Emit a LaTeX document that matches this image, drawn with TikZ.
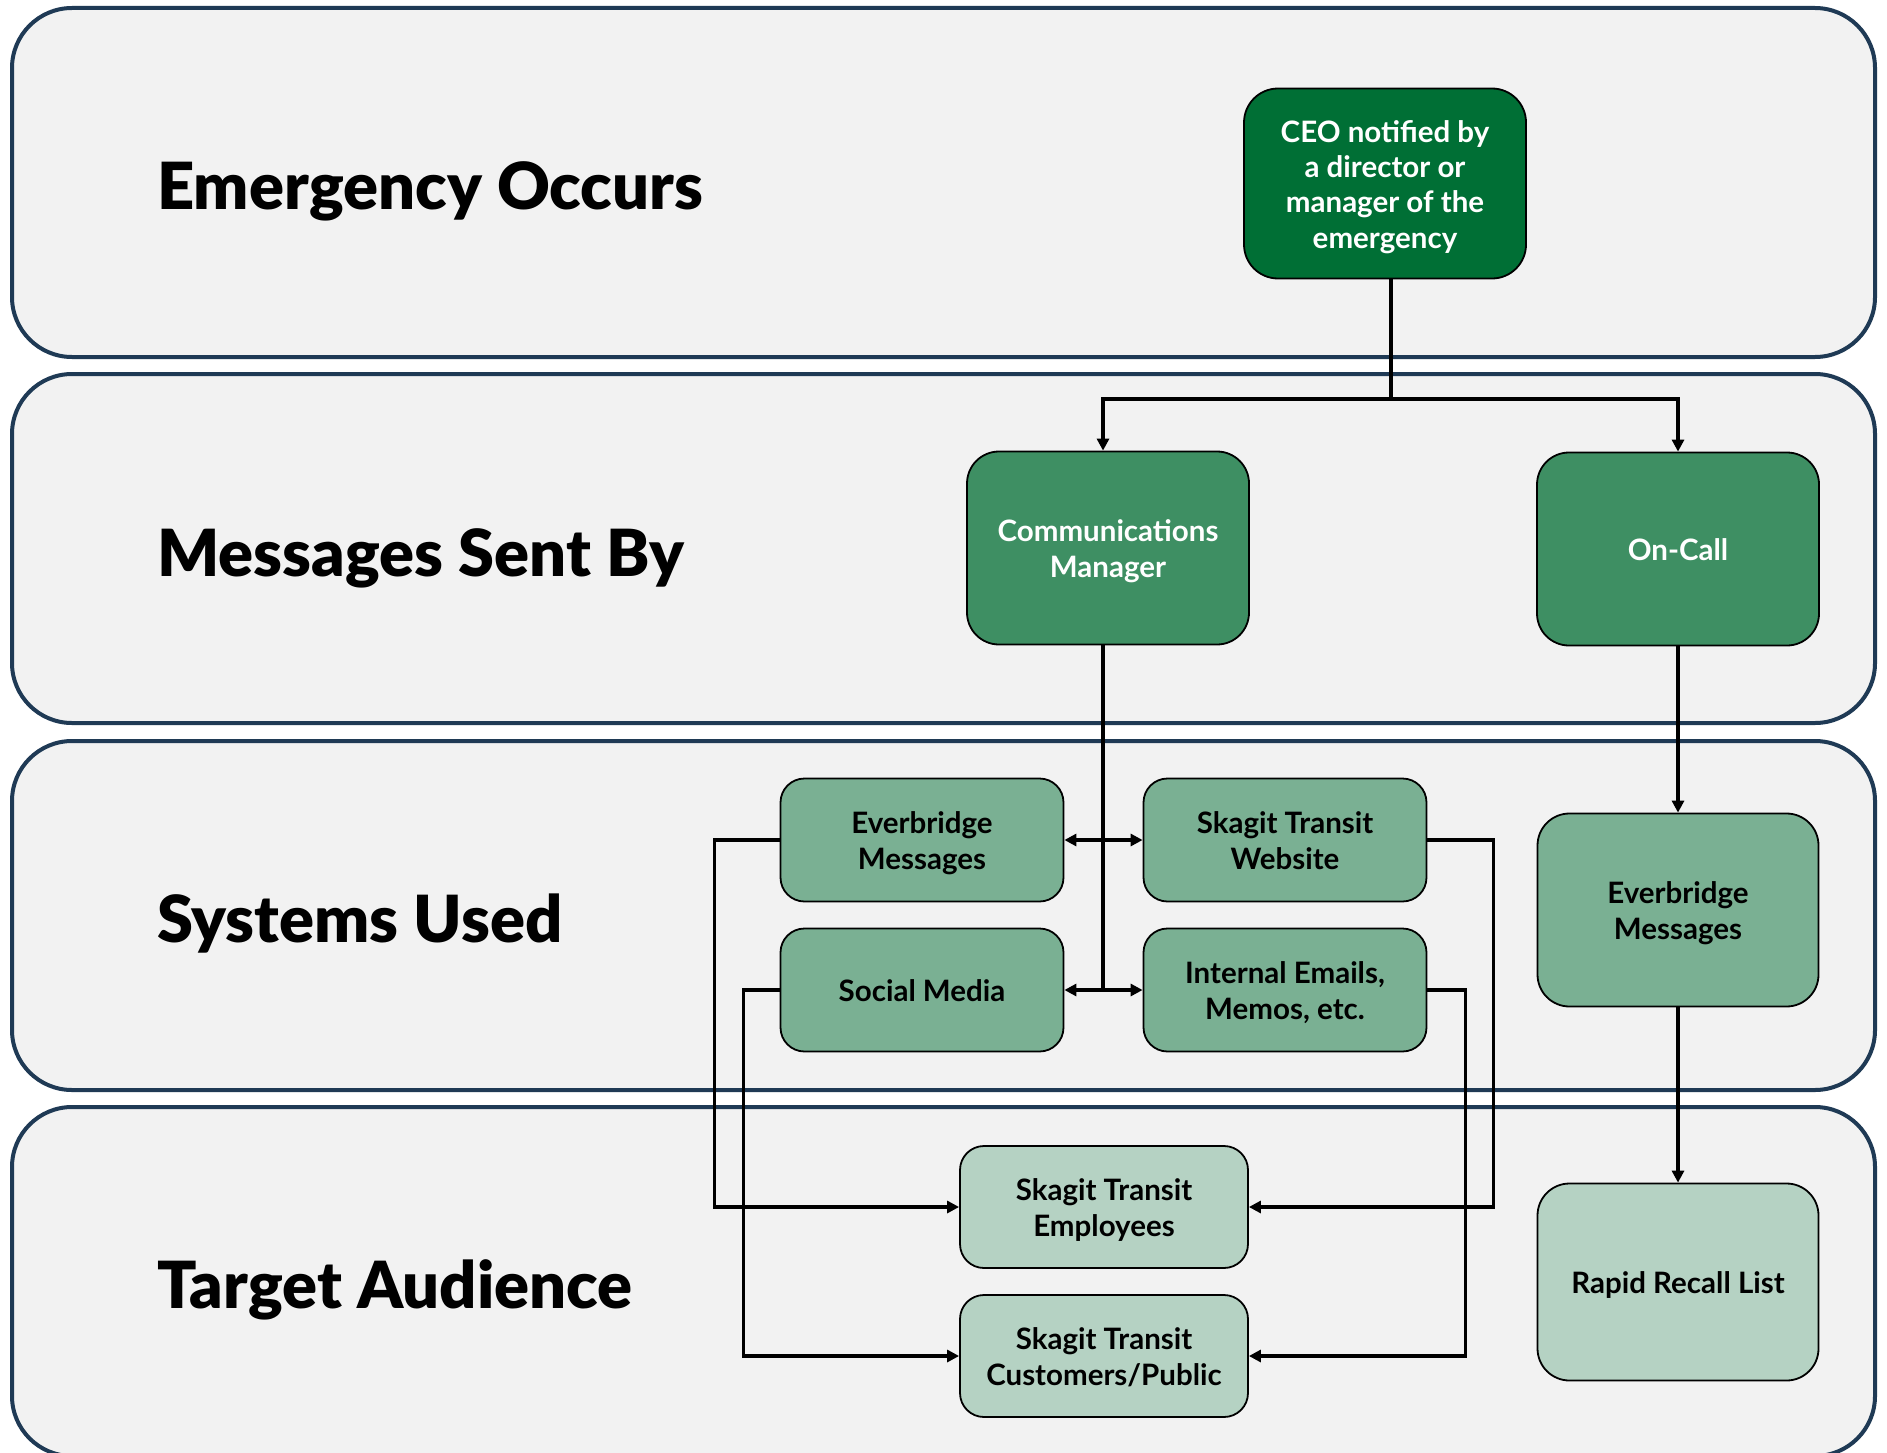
\documentclass[tikz,border=0pt]{standalone}
\usepackage{fontspec}
\setmainfont{Lato}
\newfontfamily\latoheavy{Lato Black}
\usetikzlibrary{arrows.meta}
\definecolor{lanefill}{HTML}{F2F2F2}
\definecolor{laneline}{HTML}{1F3A55}
\definecolor{ceogreen}{HTML}{006F35}
\definecolor{midgreen}{HTML}{3E8F63}
\definecolor{sysgreen}{HTML}{7AB093}
\definecolor{tgtgreen}{HTML}{B5D2C3}
\newcommand\bxfont{\fontsize{29.5}{35.3}\selectfont\bfseries}
\newcommand\lnfont{\fontsize{65}{70}\selectfont\latoheavy}
\newcommand\bt[1]{\raisebox{-4.5pt}[\height][\depth]{\begin{tabular}{@{}c@{}}#1\end{tabular}}}
\begin{document}
\begin{tikzpicture}[x=1pt,y=-1pt,
  lane/.style={draw=laneline, fill=lanefill, line width=4pt, rounded corners=60pt,
    minimum width=1863pt, minimum height=349pt, inner sep=0pt},
  lanetitle/.style={font=\lnfont, anchor=base west, inner sep=0pt},
  box/.style={draw=black, line width=1.8pt, rounded corners=24pt,
    inner sep=0pt, font=\bxfont},
  ceobox/.style={box, fill=ceogreen, text=white, minimum width=282pt, minimum height=190pt, rounded corners=34pt},
  sendbox/.style={box, fill=midgreen, text=white, minimum width=282pt, minimum height=193pt, rounded corners=32pt},
  sysbox/.style={box, fill=sysgreen, minimum width=283pt, minimum height=123pt},
  bigsys/.style={box, fill=sysgreen, minimum width=281pt, minimum height=193pt, rounded corners=32pt},
  tgtbox/.style={box, fill=tgtgreen, minimum width=288pt, minimum height=122pt},
  bigtgt/.style={box, fill=tgtgreen, minimum width=281pt, minimum height=197pt, rounded corners=32pt},
  conn/.style={draw=black, line width=3.5pt},
  arr/.style={conn, -{Triangle[length=12pt,width=12pt]}},
  darr/.style={conn, {Triangle[length=12pt,width=12pt]}-{Triangle[length=12pt,width=12pt]}}
]
\useasboundingbox (0,0) rectangle (1887,1453);
\clip (0,0) rectangle (1887,1453);
\fill[white] (0,0) rectangle (1887,1453);

% lanes
\node[lane] (lane1) at (943.5,182.5) {};
\node[lane] (lane2) at (943.5,548.5) {};
\node[lane] (lane3) at (943.5,915.5) {};
\node[lane] (lane4) at (943.5,1281.5) {};

\node[lanetitle] (t1) at (157,209) {Emergency Occurs};
\node[lanetitle] (t2) at (157,576) {Messages Sent By};
\node[lanetitle] (t3) at (157,942) {Systems Used};
\node[lanetitle] (t4) at (157,1308) {Target Audience};

% boxes
\node[ceobox] (ceo) at (1385,183.5) {\bt{CEO notified by\\a director or\\manager of the\\emergency}};
\node[sendbox] (comm) at (1108,548) {\bt{Communications\\Manager}};
\node[sendbox] (oncall) at (1678,549) {\bt{On-Call}};

\node[sysbox] (ever) at (922,840) {\bt{Everbridge\\Messages}};
\node[sysbox] (web) at (1285,840) {\bt{Skagit Transit\\Website}};
\node[sysbox] (social) at (922,990) {\bt{Social Media}};
\node[sysbox] (internal) at (1285,990) {\bt{Internal Emails,\\Memos, etc.}};
\node[bigsys] (ever2) at (1678,910) {\bt{Everbridge\\Messages}};

\node[tgtbox] (emp) at (1104,1207) {\bt{Skagit Transit\\Employees}};
\node[tgtbox] (cust) at (1104,1356) {\bt{Skagit Transit\\Customers/Public}};
\node[bigtgt] (rapid) at (1678,1282) {\bt{Rapid Recall List}};

% connectors
\coordinate (split) at (1391,399);
\coordinate (commcol) at (1103,0);
\draw[conn] (ceo.south -| split) -- (split);
\draw[arr] (split) -| (comm.north -| commcol);
\draw[arr] (split) -| (oncall.north);

\draw[conn] (comm.south -| commcol) -- (commcol |- social.east);
\draw[darr] (ever.east) -- (web.west);
\draw[darr] (social.east) -- (internal.west);

\draw[arr] (ever.west) -- ++(-65,0) |- (emp.west);
\draw[arr] (social.west) -- ++(-36,0) |- (cust.west);
\draw[arr] (web.east) -- ++(66,0) |- (emp.east);
\draw[arr] (internal.east) -- ++(38,0) |- (cust.east);

\draw[arr] (oncall.south) -- (ever2.north);
\draw[arr] (ever2.south) -- (rapid.north);
\end{tikzpicture}
\end{document}
